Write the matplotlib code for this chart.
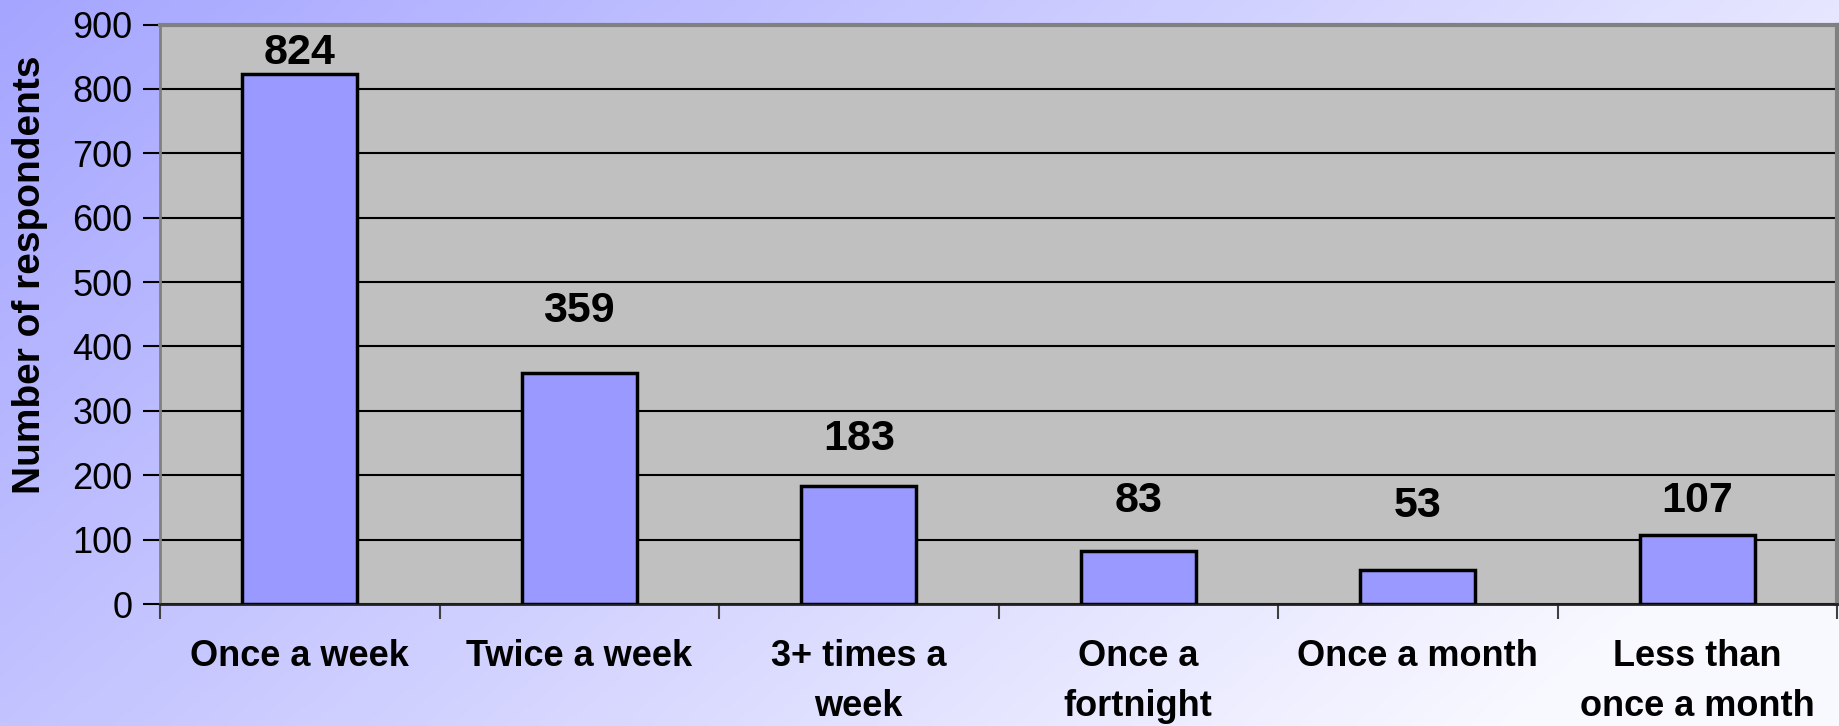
import numpy as np
import matplotlib
matplotlib.use("Agg")
import matplotlib.pyplot as plt

categories = ["Once a week", "Twice a week", "3+ times a\nweek", "Once a\nfortnight",
              "Once a month", "Less than\nonce a month"]
values = [824, 359, 183, 83, 53, 107]
label_pos = [856, 455, 257, 160, 153, 160]
yticks = [0, 100, 200, 300, 400, 500, 600, 700, 800, 900]

plt.rcParams['font.family'] = ['Liberation Sans', 'DejaVu Sans']

W, H = 1839, 726
fig = plt.figure(figsize=(W / 100, H / 100), dpi=100)

# gradient background
nx, ny = 400, 160
xf = np.linspace(0, 1, nx)[None, :]
yf = np.linspace(0, 1, ny)[:, None]
lum = np.clip(165 + 65 * xf + 30 * yf, 0, 248) / 255.0
grad = np.zeros((ny, nx, 3))
grad[..., 0] = lum
grad[..., 1] = lum
grad[..., 2] = 1.0
bg = fig.add_axes([0, 0, 1, 1], zorder=0)
bg.imshow(grad, aspect='auto', extent=[0, 1, 0, 1], origin='upper')
bg.axis('off')

left, right, top, bottom = 160, 1837, 24.6, 604
ax = fig.add_axes([left / W, 1 - bottom / H, (right - left) / W, (bottom - top) / H], zorder=1)
ax.set_facecolor('#C0C0C0')

x = np.arange(len(values))
ax.bar(x, values, width=0.41, color='#9999FF', edgecolor='black', linewidth=2.5, zorder=3)
for xi, v, p in zip(x, values, label_pos):
    ax.text(xi, p, str(v), ha='center', va='center', fontsize=31, fontweight='bold', zorder=4)

ax.set_xlim(-0.5, len(values) - 0.5)
ax.set_ylim(0, 900)
ax.set_yticks(yticks)
ax.set_yticklabels([str(t) for t in yticks], fontsize=26)
ax.yaxis.grid(True, color='black', linewidth=1.5, zorder=1)
ax.set_axisbelow(True)

ax.set_xticks(np.arange(len(values) + 1) - 0.5)
ax.set_xticklabels([])
ax.set_xticks(x, minor=True)
ax.set_xticklabels(categories, minor=True, fontsize=26, fontweight='bold', linespacing=1.55)
ax.tick_params(axis='x', which='minor', length=0, pad=25)
ax.tick_params(axis='x', which='major', length=11, width=1.5, color='#404040', direction='out')
ax.tick_params(axis='y', length=12, width=1.5, color='black', direction='out', pad=8)

for s in ['top', 'right']:
    ax.spines[s].set_color('#808080')
    ax.spines[s].set_linewidth(3)
ax.spines['left'].set_color('#808080')
ax.spines['left'].set_linewidth(2)
ax.spines['bottom'].set_color('#202020')
ax.spines['bottom'].set_linewidth(2)

fig.text(30 / W, 1 - 275 / H, "Number of respondents", rotation=90, ha='center', va='center',
         fontsize=28, fontweight='bold')

fig.savefig("out.png", dpi=100)
